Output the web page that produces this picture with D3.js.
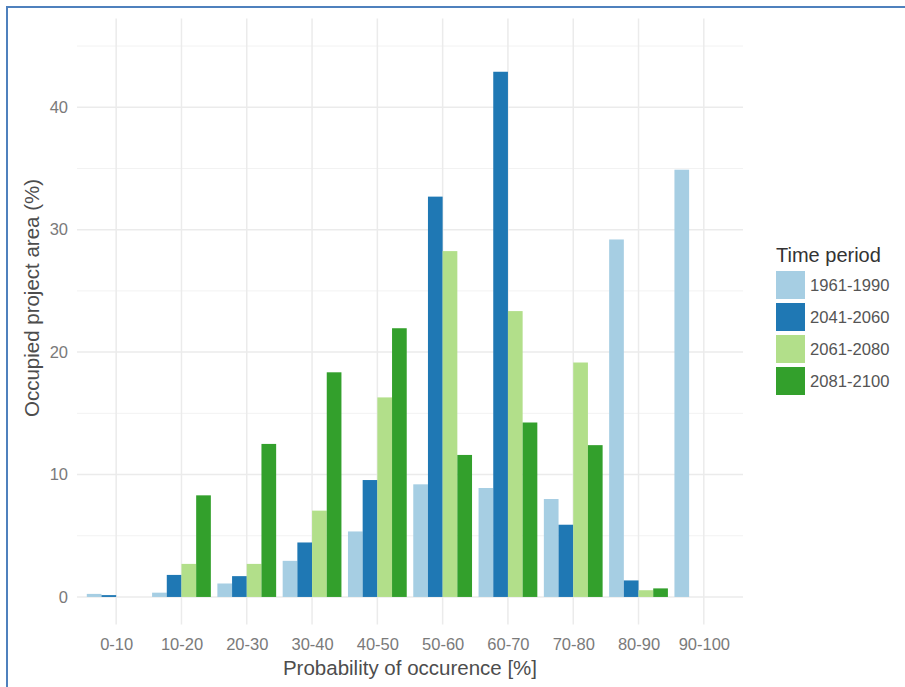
<!DOCTYPE html>
<html>
<head>
<meta charset="utf-8">
<script src="https://cdn.jsdelivr.net/npm/d3@7"></script>
<style>
  body { margin: 0; background: #fff; }
  svg { display: block; font-family: "Liberation Sans", Arial, sans-serif; }
</style>
</head>
<body>
<div id="chart"></div>
<script>
// Values (percent of project area)
const categories = ["0-10", "10-20", "20-30", "30-40", "40-50", "50-60", "60-70", "70-80", "80-90", "90-100"];
const periods = ["1961-1990", "2041-2060", "2061-2080", "2081-2100"];
const p1961 = [0.25, 0.35, 1.1, 2.95, 5.35, 9.2, 8.9, 8.0, 29.2, 34.9];
const p2041 = [0.15, 1.8, 1.7, 4.45, 9.55, 32.7, 42.9, 5.9, 1.35, 0];
const p2061 = [0, 2.7, 2.7, 7.05, 16.3, 28.25, 23.35, 19.15, 0.55, 0];
const p2081 = [0, 8.3, 12.5, 18.35, 21.95, 11.6, 14.25, 12.4, 0.7, 0];
const yTicks = [0, 10, 20, 30, 40];
const yMinor = [5, 15, 25, 35, 45];
const colours = ["#a6cee3", "#1f78b4", "#b2df8a", "#33a02c"];

const width = 905, height = 687;
const panel = { left: 77, right: 743, top: 18.5, bottom: 624.5 };

const seriesValues = [p1961, p2041, p2061, p2081];
const rows = [];
categories.forEach((c, i) => {
    periods.forEach((p, j) => rows.push({ category: c, period: p, value: seriesValues[j][i] }));
});

const svg = d3.select("#chart").append("svg")
    .attr("width", width)
    .attr("height", height);

// frame from the pasted picture
svg.append("path")
    .attr("d", `M7,${height} L7,7 L${width},7`)
    .attr("fill", "none")
    .attr("stroke", "#4f81bd")
    .attr("stroke-width", 2);

const x = d3.scalePoint()
    .domain(categories)
    .range([panel.left, panel.right])
    .padding(0.6);

const xInner = d3.scaleBand()
    .domain(periods)
    .range([-0.45 * x.step(), 0.45 * x.step()]);

const y = d3.scaleLinear()
    .domain([-2.25, 47.25])
    .range([panel.bottom, panel.top]);

const colour = d3.scaleOrdinal().domain(periods).range(colours);

// grid
const grid = svg.append("g");
grid.selectAll("line.minor")
    .data(yMinor)
    .join("line")
    .attr("class", "minor")
    .attr("x1", panel.left).attr("x2", panel.right)
    .attr("y1", d => y(d)).attr("y2", d => y(d))
    .attr("stroke", "#f2f2f2")
    .attr("stroke-width", 1);
grid.selectAll("line.hmajor")
    .data(yTicks)
    .join("line")
    .attr("class", "hmajor")
    .attr("x1", panel.left).attr("x2", panel.right)
    .attr("y1", d => y(d)).attr("y2", d => y(d))
    .attr("stroke", "#ebebeb")
    .attr("stroke-width", 1.5);
grid.selectAll("line.vmajor")
    .data(categories)
    .join("line")
    .attr("class", "vmajor")
    .attr("x1", d => x(d)).attr("x2", d => x(d))
    .attr("y1", panel.top).attr("y2", panel.bottom)
    .attr("stroke", "#ebebeb")
    .attr("stroke-width", 1.5);

// bars
svg.append("g")
    .selectAll("rect")
    .data(rows)
    .join("rect")
    .attr("x", d => x(d.category) + xInner(d.period))
    .attr("width", xInner.bandwidth())
    .attr("y", d => y(Math.max(0, d.value)))
    .attr("height", d => Math.abs(y(d.value) - y(0)))
    .attr("fill", d => colour(d.period));

// axes
const xAxis = svg.append("g")
    .attr("transform", `translate(0,${panel.bottom})`)
    .call(d3.axisBottom(x).tickSize(0).tickPadding(14));
xAxis.select(".domain").remove();
xAxis.selectAll("text")
    .attr("fill", "#7a7a7a")
    .style("font-size", "16.5px");

const yAxis = svg.append("g")
    .attr("transform", `translate(${panel.left},0)`)
    .call(d3.axisLeft(y).tickValues(yTicks).tickSize(0).tickPadding(9));
yAxis.select(".domain").remove();
yAxis.selectAll("text")
    .attr("fill", "#7a7a7a")
    .style("font-size", "16.5px");

// axis titles
svg.append("text")
    .attr("x", (panel.left + panel.right) / 2)
    .attr("y", 675)
    .attr("text-anchor", "middle")
    .attr("fill", "#4d4d4d")
    .style("font-size", "20.5px")
    .text("Probability of occurence [%]");

svg.append("text")
    .attr("transform", "translate(39,298) rotate(-90)")
    .attr("text-anchor", "middle")
    .attr("fill", "#4d4d4d")
    .style("font-size", "20.5px")
    .text("Occupied project area (%)");

// legend
const legend = svg.append("g").attr("transform", "translate(776,0)");
legend.append("text")
    .attr("x", 0)
    .attr("y", 262)
    .attr("fill", "#333")
    .style("font-size", "20px")
    .text("Time period");

const keyStep = 32, keyTop = 271, keySize = 28;
const keys = legend.selectAll("g.key")
    .data(periods)
    .join("g")
    .attr("class", "key")
    .attr("transform", (d, i) => `translate(0,${keyTop + i * keyStep})`);
keys.append("rect")
    .attr("width", 29)
    .attr("height", keySize)
    .attr("fill", d => colour(d));
keys.append("text")
    .attr("x", 34)
    .attr("y", keySize / 2)
    .attr("dy", "0.35em")
    .attr("fill", "#555")
    .style("font-size", "16.6px")
    .text(d => d);
</script>
</body>
</html>
